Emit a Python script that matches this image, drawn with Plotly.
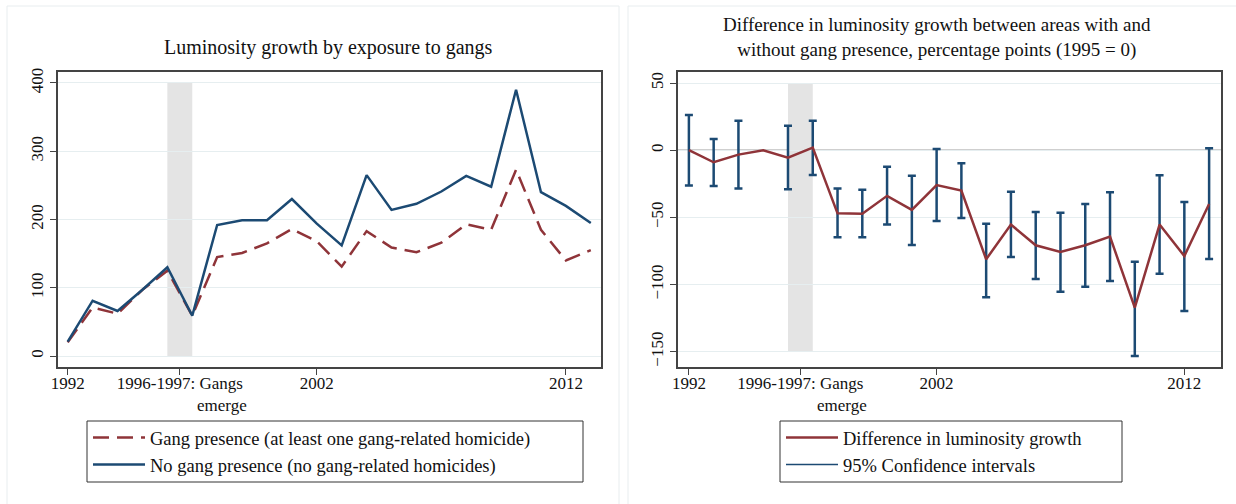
import plotly.graph_objects as go
from plotly.subplots import make_subplots

# ----------------------------------
# DATA
# ----------------------------------

years = list(range(1992, 2014))

gang_presence = [20, 71, 62, 97, 125, 59, 145, 151, 165, 186, 168,
                 131, 183, 159, 152, 166, 193, 185, 273, 185, 140, 155]
no_gang_presence = [21, 81, 66, 97, 130, 59, 192, 199, 199, 230, 194,
                    162, 265, 214, 223, 241, 264, 248, 390, 240, 220, 195]

difference = [0, -9, -3.3, 0, -5.6, 1.9, -47, -47.3, -34, -44.5, -26,
              -30.1, -81.2, -55.4, -70.8, -75.8, -70.8, -64.4, -117.2, -55.4, -78.8, -40]

ci_years = [y for y in years if y != 1995]
ci_high = [26.2, 8.3, 22, 18.2, 22, -28.6, -29.4, -12.3, -19, 0.9, -9.8,
           -54.7, -30.9, -46, -46.5, -40, -31.4, -83, -18.7, -38.6, 1.4]
ci_low = [-26.2, -26.7, -28.6, -29, -18.5, -64.9, -64.9, -55.4, -70.6, -52.7, -50.5,
          -109.5, -79.5, -95.9, -105.3, -101.6, -97.4, -153.2, -92, -119.7, -81]

tick_vals = [1992, 1996.5, 2002, 2012]
tick_text = ["1992", "1996-1997: Gangs", "2002", "2012"]

band_start, band_end = 1996, 1997

# ----------------------------------
# STYLE
# ----------------------------------

W, H = 1236, 504
FONT = "Liberation Serif"
RED = "#8f3439"
BLUE = "#1c4a73"
AXIS = "#444444"
GRID = "#e6eef0"
TEXT = "#111111"

fig = make_subplots(rows=1, cols=2)

# left panel
fig.add_trace(go.Scatter(
    x=years, y=gang_presence, mode="lines",
    line=dict(color=RED, width=2.5, dash="16px,8px"),
    name="Gang presence (at least one gang-related homicide)",
    legend="legend"
), row=1, col=1)

fig.add_trace(go.Scatter(
    x=years, y=no_gang_presence, mode="lines",
    line=dict(color=BLUE, width=2.5),
    name="No gang presence (no gang-related homicides)",
    legend="legend"
), row=1, col=1)

# right panel
ci_mid = [(h + l) / 2 for h, l in zip(ci_high, ci_low)]
ci_half = [(h - l) / 2 for h, l in zip(ci_high, ci_low)]

fig.add_trace(go.Scatter(
    x=ci_years, y=ci_mid, mode="markers",
    marker=dict(size=1, color="rgba(0,0,0,0)"),
    error_y=dict(type="data", array=ci_half, color=BLUE, thickness=2.5, width=4),
    showlegend=False
), row=1, col=2)

fig.add_trace(go.Scatter(
    x=years, y=difference, mode="lines",
    line=dict(color=RED, width=2.5),
    name="Difference in luminosity growth",
    legend="legend2", legendrank=1
), row=1, col=2)

fig.add_trace(go.Scatter(
    x=[None], y=[None], mode="lines",
    line=dict(color=BLUE, width=1.5),
    name="95% Confidence intervals",
    legend="legend2", legendrank=2
), row=1, col=2)

# ----------------------------------
# AXES
# ----------------------------------

y_top = 1 - 72 / H
y_bot = 1 - 367 / H

axis_common = dict(
    showline=True, mirror=True, linecolor=AXIS, linewidth=1.5,
    ticks="outside", ticklen=6, tickcolor=AXIS, tickwidth=1.2,
    tickfont=dict(family=FONT, size=17, color=TEXT),
    zeroline=False, automargin=False
)

fig.update_xaxes(
    **axis_common, tickvals=tick_vals, ticktext=tick_text, showgrid=False,
    ticklabelstandoff=-6
)
fig.update_yaxes(**axis_common, showgrid=True, gridcolor=GRID, gridwidth=1, tickangle=-90)

fig.update_layout(
    xaxis=dict(domain=[58 / W, 600.5 / W], range=[1991.61, 2013.39]),
    yaxis=dict(domain=[y_bot, y_top], range=[-16.1, 416.1], tickvals=[0, 100, 200, 300, 400]),
    xaxis2=dict(domain=[678 / W, 1221 / W], range=[1991.56, 2013.48]),
    yaxis2=dict(domain=[y_bot, y_top], range=[-161.4, 58.2], tickvals=[-150, -100, -50, 0, 50]),
)

# shaded gang emergence band and zero reference line
fig.add_shape(type="rect", xref="x", yref="y", x0=band_start, x1=band_end, y0=0, y1=400,
              fillcolor="#e4e4e4", line=dict(width=0), layer="below")
fig.add_shape(type="rect", xref="x2", yref="y2", x0=band_start, x1=band_end, y0=-150, y1=50,
              fillcolor="#e4e4e4", line=dict(width=0), layer="below")
fig.add_shape(type="line", xref="x2 domain", yref="y2", x0=0, x1=1, y0=0, y1=0,
              line=dict(color="#a0a0a0", width=1.5), layer="below")

# faint panel frames
fig.add_shape(type="rect", xref="paper", yref="paper", x0=7 / W, x1=619 / W, y0=-0.05, y1=1 - 6 / H,
              line=dict(color="#e8edef", width=1))
fig.add_shape(type="rect", xref="paper", yref="paper", x0=628 / W, x1=1.05, y0=-0.05, y1=1 - 6 / H,
              line=dict(color="#e8edef", width=1))

# legend frames (wider than plotly's auto-sized box)
fig.add_shape(type="rect", xref="paper", yref="paper", x0=87 / W, x1=583 / W,
              y0=1 - 482 / H, y1=1 - 421 / H, line=dict(color="#333333", width=1))
fig.add_shape(type="rect", xref="paper", yref="paper", x0=780 / W, x1=1122 / W,
              y0=1 - 482 / H, y1=1 - 421 / H, line=dict(color="#333333", width=1))

# second line of the emergence tick label
for xr in ["x", "x2"]:
    fig.add_annotation(text="emerge", xref=xr, yref="paper", x=1996.5, y=1 - 405 / H,
                       xshift=42, showarrow=False, xanchor="center", yanchor="middle",
                       font=dict(family=FONT, size=17, color=TEXT))

# titles
fig.add_annotation(text="Luminosity growth by exposure to gangs", xref="paper", yref="paper",
                   x=329 / W, y=1 - 47 / H, showarrow=False, xanchor="center", yanchor="middle",
                   font=dict(family=FONT, size=20, color=TEXT))
fig.add_annotation(text="Difference in luminosity growth between areas with and<br>"
                        "without gang presence, percentage points (1995 = 0)",
                   xref="paper", yref="paper", x=937 / W, y=1 - 38 / H, showarrow=False,
                   xanchor="center", yanchor="middle",
                   font=dict(family=FONT, size=19, color=TEXT))

legend_common = dict(
    borderwidth=0, bgcolor="rgba(0,0,0,0)",
    font=dict(family=FONT, size=18.5, color=TEXT),
    xanchor="left", yanchor="top", tracegroupgap=0, itemwidth=52
)

fig.update_layout(
    width=W, height=H,
    margin=dict(l=0, r=0, t=0, b=0, pad=0),
    font=dict(family=FONT, color=TEXT),
    paper_bgcolor="white", plot_bgcolor="white",
    legend=dict(**legend_common, x=88 / W, y=1 - 419 / H),
    legend2=dict(**legend_common, x=781 / W, y=1 - 419 / H),
)

fig.write_html("out.html", config={"displayModeBar": False},
               post_script="document.body.style.margin='0';")
